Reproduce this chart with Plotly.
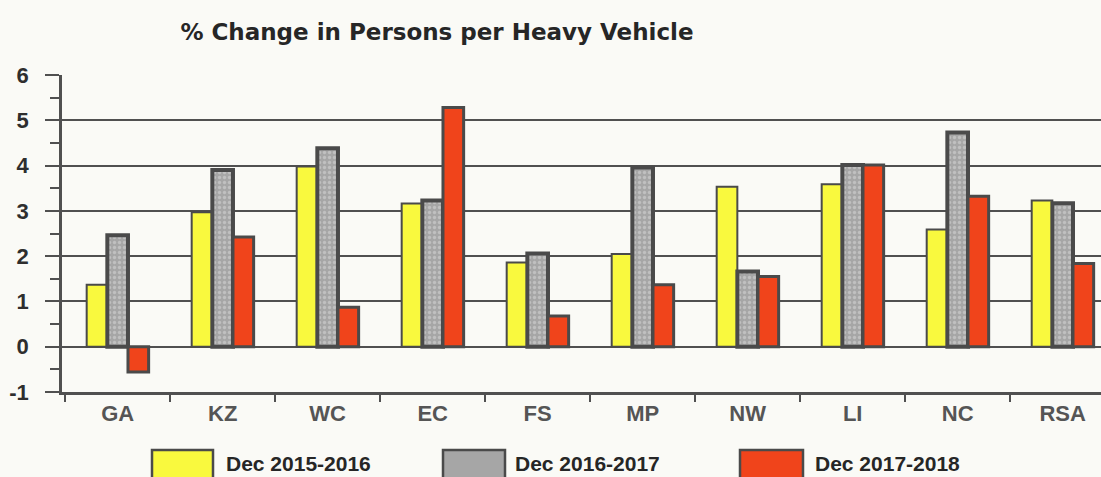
import plotly.graph_objects as go

regions = ["GA", "KZ", "WC", "EC", "FS", "MP", "NW", "LI", "NC", "RSA"]
series_names = ["Dec 2015-2016", "Dec 2016-2017", "Dec 2017-2018"]
dec_2015_2016 = [1.37, 2.97, 3.98, 3.16, 1.86, 2.05, 3.53, 3.59, 2.59, 3.23]
dec_2016_2017 = [2.46, 3.90, 4.38, 3.23, 2.06, 3.96, 1.66, 4.01, 4.73, 3.17]
dec_2017_2018 = [-0.56, 2.42, 0.87, 5.28, 0.68, 1.37, 1.55, 4.01, 3.32, 1.84]
y_ticks = [-1, 0, 1, 2, 3, 4, 5, 6]

YELLOW = "#F9F93E"
GRAY = "#A6A6A6"
RED = "#F0441B"
EDGE = "#4A4A4A"
BG = "#FAFAF6"
AX = "#505050"
FONT = "Liberation Sans, Arial, sans-serif"

fig = go.Figure()
fig.add_trace(go.Bar(name=series_names[0], x=regions, y=dec_2015_2016,
                     marker=dict(color=YELLOW, line=dict(color=EDGE, width=2))))
fig.add_trace(go.Bar(name=series_names[1], x=regions, y=dec_2016_2017,
                     marker=dict(color=GRAY, line=dict(color=EDGE, width=4),
                                 pattern=dict(shape=".", bgcolor=GRAY, fgcolor="#D9D9D9",
                                              size=5, solidity=0.35))))
fig.add_trace(go.Bar(name=series_names[2], x=regions, y=dec_2017_2018,
                     marker=dict(color=RED, line=dict(color=EDGE, width=3))))

W, H = 1101, 477
L, R, T, B = 62, 0, 75, 85

fig.update_layout(
    width=W, height=H,
    margin=dict(l=L, r=R, t=T, b=B),
    paper_bgcolor=BG, plot_bgcolor=BG,
    barmode="group", bargap=0.41, bargroupgap=0.0,
    showlegend=False,
    font=dict(family=FONT, color="#333333"),
    title=dict(text="<b>% Change in Persons per Heavy Vehicle</b>",
               x=437 / W, xref="container", xanchor="center",
               y=1 - 32 / H, yref="container", yanchor="middle",
               font=dict(size=23, color="#262626", family="DejaVu Sans, sans-serif")),
)

fig.update_yaxes(
    range=[-1, 6], tickvals=y_ticks, ticktext=[str(v) for v in y_ticks],
    showgrid=True, gridcolor=AX, gridwidth=2,
    zeroline=False,
    showline=True, linecolor=AX, linewidth=2.5,
    ticks="outside", ticklen=14, tickcolor=AX, tickwidth=2,
    minor=dict(dtick=0.5, ticks="outside", ticklen=9, tickcolor=AX,
               tickwidth=2, showgrid=False),
    tickfont=dict(size=22, color="#2E2E2E", family=FONT, weight="bold"),
    ticklabelstandoff=12,
)
fig.update_xaxes(
    range=[-0.53, 9.365],
    showgrid=False,
    showline=True, linecolor=AX, linewidth=2.5,
    ticks="outside", tickson="boundaries", ticklen=7, tickcolor=AX, tickwidth=2,
    tickfont=dict(size=22, color="#555555", family=FONT, weight="bold"),
)

# legend drawn as boxes and labels below the chart
plot_w = W - L - R
plot_h = H - T - B
def px_x(px):
    return (px - L) / plot_w
def px_y(py):
    return (H - B - py) / plot_h

legend_items = [
    (series_names[0], YELLOW, 152, 213, 224),
    (series_names[1], GRAY, 443, 505, 513),
    (series_names[2], RED, 740, 803, 813),
]
for name, col, x0, x1, tx in legend_items:
    fig.add_shape(type="rect", xref="paper", yref="paper",
                  x0=px_x(x0), x1=px_x(x1), y0=px_y(484), y1=px_y(450),
                  fillcolor=col, line=dict(color=EDGE, width=2.5), layer="above")
    fig.add_annotation(xref="paper", yref="paper", x=px_x(tx), y=px_y(463),
                       xanchor="left", yanchor="middle", showarrow=False,
                       text=f"<b>{name}</b>",
                       font=dict(size=21, color="#262626"))

fig.write_html("out.html", config={"displayModeBar": False},
               post_script="document.body.style.margin='0px';document.body.style.padding='0px';")
